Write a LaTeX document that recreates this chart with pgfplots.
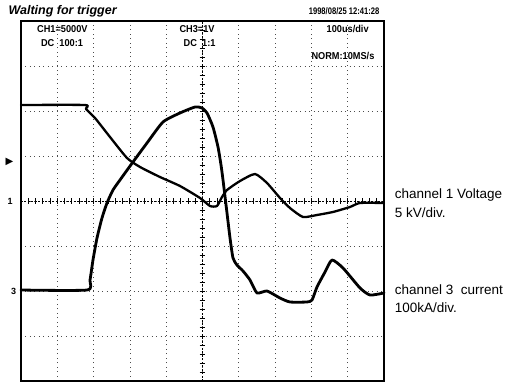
\documentclass[border=0pt]{standalone}
\usepackage{pgfplots}
\pgfplotsset{compat=1.18}
\usepackage{fontspec}
\setmainfont{Liberation Sans}
\newfontfamily\dejavu{DejaVu Sans}
\pgfplotstableread{
x y
0.000 2.133
1.763 2.133
1.791 2.044
2.039 1.844
2.452 1.422
2.920 0.956
3.278 0.756
3.829 0.533
4.380 0.333
4.931 0.067
5.207 -0.111
5.399 -0.111
5.537 0.089
5.675 0.244
6.033 0.444
6.446 0.600
6.777 0.400
7.135 0.067
7.410 -0.156
7.769 -0.356
8.154 -0.311
8.595 -0.244
9.063 -0.133
9.339 -0.044
10.000 -0.044
}\chone
\pgfplotstableread{
x y
0.000 -1.978
1.818 -1.978
1.901 -1.756
1.983 -1.311
2.094 -0.822
2.231 -0.378
2.369 -0.044
2.534 0.244
2.727 0.467
3.085 0.867
3.471 1.289
3.912 1.756
4.380 1.956
4.793 2.089
4.986 2.067
5.124 1.956
5.289 1.644
5.427 1.200
5.510 0.800
5.565 0.467
5.675 -0.267
5.758 -0.822
5.840 -1.267
5.950 -1.422
6.116 -1.556
6.309 -1.756
6.501 -2.044
6.777 -2.000
7.135 -2.156
7.410 -2.244
7.879 -2.244
8.017 -2.200
8.154 -1.911
8.375 -1.578
8.567 -1.311
8.871 -1.489
9.339 -1.933
9.614 -2.089
10.000 -2.044
}\chthree
\begin{document}
\begin{tikzpicture}
\useasboundingbox (-21pt,-2pt) rectangle (490pt,381pt);
\begin{axis}[
  at={(0pt,0pt)}, anchor=south west,
  width=363pt, height=360pt, scale only axis,
  xmin=0, xmax=10, ymin=-4, ymax=4,
  xtick={0,...,10}, ytick={-4,...,4},
  xticklabels={}, yticklabels={},
  major tick length=0pt,
  grid=major,
  grid style={black!70, line width=0.7pt, dash pattern=on 0.7pt off 3.8pt},
  axis line style={black, line width=1.3pt},
  clip=false,
]
% centre lines with small ticks
\draw[black, line width=0.9pt, dash pattern=on 2pt off 1.5pt] (axis cs:0,0) -- (axis cs:10,0);
\draw[black, line width=0.9pt, dash pattern=on 2pt off 1.5pt] (axis cs:5,-4) -- (axis cs:5,4);
\pgfplotsinvokeforeach{1,...,49}{\draw[black, line width=0.8pt] (axis cs:#1/5,-0.06) -- (axis cs:#1/5,0.06);}
\pgfplotsinvokeforeach{-19,...,19}{\draw[black, line width=0.8pt] (axis cs:4.92,#1/5) -- (axis cs:5.08,#1/5);}
% traces
\addplot[black, line width=2.3pt, line join=round, line cap=round, smooth, tension=0.35] table[x=x,y=y] {\chone};
\addplot[black, line width=2.8pt, line join=round, line cap=round, smooth, tension=0.35] table[x=x,y=y] {\chthree};
% scope texts
\node[anchor=west, font=\fontsize{12.5}{13}\selectfont\bfseries\itshape] at (axis cs:-0.44,4.21) {Walting for trigger};
\node[anchor=east, font=\fontsize{9.5}{10}\selectfont\bfseries] at (axis cs:9.97,4.21) {\scalebox{0.8}[1]{1998/08/25 12:41:28}};
\node[font=\fontsize{10}{11}\selectfont\bfseries] at (axis cs:1.14,3.82) {\scalebox{0.92}[1]{CH1=5000V}};
\node[font=\fontsize{10}{11}\selectfont\bfseries] at (axis cs:1.13,3.50) {\scalebox{0.92}[1]{DC\ \ 100:1}};
\node[font=\fontsize{10}{11}\selectfont\bfseries] at (axis cs:4.85,3.82) {\scalebox{0.92}[1]{CH3=1V}};
\node[font=\fontsize{10}{11}\selectfont\bfseries] at (axis cs:4.92,3.50) {\scalebox{0.92}[1]{DC\ \ 1:1}};
\node[font=\fontsize{10}{11}\selectfont\bfseries] at (axis cs:9.0,3.82) {\scalebox{0.92}[1]{100us/div}};
\node[font=\fontsize{10}{11}\selectfont\bfseries] at (axis cs:8.87,3.23) {\scalebox{0.92}[1]{NORM:10MS/s}};
% channel markers
\node[font=\fontsize{10}{10}\selectfont\dejavu] at (axis cs:-0.32,0.87) {▶};
\node[font=\fontsize{9}{9}\selectfont\bfseries] at (axis cs:-0.30,0) {1};
\node[font=\fontsize{9}{9}\selectfont\bfseries] at (axis cs:-0.20,-2.02) {3};
% right labels
\node[anchor=west, font=\fontsize{13.5}{14}\selectfont] at (axis cs:10.20,0.13) {channel 1 Voltage};
\node[anchor=west, font=\fontsize{13.5}{14}\selectfont] at (axis cs:10.20,-0.25) {5 kV/div.};
\node[anchor=west, font=\fontsize{13.5}{14}\selectfont] at (axis cs:10.20,-1.98) {channel 3\ \ current};
\node[anchor=west, font=\fontsize{13.5}{14}\selectfont] at (axis cs:10.20,-2.36) {100kA/div.};
\end{axis}
\end{tikzpicture}
\end{document}
